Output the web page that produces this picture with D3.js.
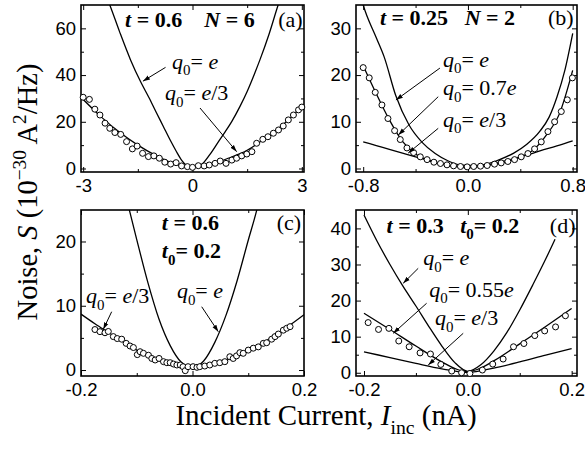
<!DOCTYPE html>
<html>
<head>
<meta charset="utf-8">
<script src="https://cdn.jsdelivr.net/npm/d3@7"></script>
<style>
body { margin: 0; background: #fff; }
.tick text { font-family: "Liberation Sans", Arial, sans-serif; font-size: 18.5px; fill: #000; }
.tick line { stroke: #000; stroke-width: 1; }
</style>
</head>
<body>
<script>
//chart size
var width = 585,
    height = 449;
var serif = "'Liberation Serif', 'Times New Roman', Times, serif";

// ---- panel (a): t = 0.6, N = 6 ----
var aXTicks = [-3, 0, 3], aXMinor = [-1.5, 1.5];
var aYTicks = [0, 20, 40, 60], aYMinor = [10, 30, 50];
var aCurveE = [[-2.4,75],[-2.27,70],[-2,58.5],[-1.7,46.5],[-1.42,37],[-1.2,30.5],[-1,24.2],[-0.8,18],[-0.62,12.4],[-0.45,7.5],[-0.29,3.4],[-0.15,1.1],[0,0.3],[0.12,0.6],[0.29,2.3],[0.5,6.5],[0.7,11.2],[0.9,15.8],[1.08,20.2],[1.3,26.5],[1.5,33],[1.7,40.5],[1.85,46.5],[2.1,57.5],[2.35,70],[2.48,76]];
var aCurveE3 = [[-3.06,30.5],[-2.5,22],[-2,15.5],[-1.5,10],[-1,5.5],[-0.5,2],[0,0.6],[0.5,1.8],[1,4.5],[1.5,7.8],[2,13],[2.5,19],[3.06,27.5]];
var aPoints = [[-3.0,30.5],[-2.83,29.6],[-2.68,25.4],[-2.54,22.9],[-2.40,19.4],[-2.27,17.2],[-2.13,15.4],[-1.97,14.6],[-1.81,11.5],[-1.65,8.4],[-1.52,9.6],[-1.37,6.5],[-1.21,5.1],[-1.06,5.4],[-0.91,4.4],[-0.76,2.7],[-0.60,1.9],[-0.45,2.5],[-0.30,1.1],[-0.14,0.8],[0.0,0.5],[0.16,1.2],[0.32,1.1],[0.46,1.5],[0.62,2.2],[0.76,3.2],[0.92,2.2],[1.08,3.6],[1.21,4.4],[1.35,5.4],[1.49,6.2],[1.63,7.2],[1.76,10.8],[1.93,12.5],[2.07,13.6],[2.22,15.1],[2.36,16.5],[2.49,18.2],[2.63,20.8],[2.77,22.9],[2.91,25.1],[3.0,26.3]];

// ---- panel (b): t = 0.25, N = 2 ----
var bXTicks = [-0.8, 0, 0.8], bXMinor = [-0.4, 0.4];
var bYTicks = [0, 10, 20, 30], bYMinor = [5, 15, 25];
var bCurveE = [[-0.82,37],[-0.8,35],[-0.7,28],[-0.64,23.9],[-0.55,15.5],[-0.45,9.3],[-0.35,5.6],[-0.25,3.2],[-0.15,1.6],[-0.05,0.7],[0.05,0.6],[0.15,1.0],[0.25,2.0],[0.35,3.3],[0.45,5.2],[0.55,8.0],[0.62,11],[0.68,15.3],[0.74,21],[0.8,28.9]];
var bCurve07 = [[-0.8,22],[-0.7,16],[-0.6,10.4],[-0.5,5.8],[-0.4,3.1],[-0.3,1.7],[-0.2,0.95],[-0.1,0.5],[0,0.35],[0.1,0.5],[0.2,0.9],[0.3,1.45],[0.4,2.4],[0.5,4.0],[0.6,7.2],[0.7,11.8],[0.8,21]];
var bCurveE3 = [[-0.8,5.7],[-0.7,4.9],[-0.6,4.1],[-0.5,3.3],[-0.4,2.5],[-0.3,1.75],[-0.2,1.05],[-0.1,0.45],[0,0.15],[0.1,0.45],[0.2,1.05],[0.3,1.75],[0.4,2.5],[0.5,3.3],[0.6,4.2],[0.7,5.0],[0.8,5.9]];
var bPoints = [[-0.80,21.6],[-0.754,19.4],[-0.708,16.3],[-0.657,13.6],[-0.611,10.7],[-0.560,8.1],[-0.517,6.2],[-0.466,4.4],[-0.415,3.4],[-0.364,2.5],[-0.312,1.9],[-0.26,1.35],[-0.21,1.07],[-0.16,0.78],[-0.11,0.57],[-0.057,0.43],[-0.006,0.35],[0.044,0.43],[0.096,0.5],[0.147,0.64],[0.203,0.93],[0.254,1.2],[0.305,1.5],[0.356,1.9],[0.407,2.5],[0.458,3.2],[0.509,4.2],[0.56,5.7],[0.611,7.9],[0.662,10],[0.713,12.2],[0.759,14.7],[0.798,19.4]];

// ---- panel (c): t = 0.6, t0 = 0.2 ----
var cXTicks = [-0.2, 0, 0.2], cXMinor = [-0.1, 0.1];
var cYTicks = [0, 10, 20], cYMinor = [5, 15];
var cCurveE = [[-0.125,29],[-0.113,24.8],[-0.1,20.3],[-0.08,13.6],[-0.06,7.9],[-0.04,3.8],[-0.02,1.2],[0,0.4],[0.02,1.4],[0.04,4.3],[0.06,8.5],[0.08,13.9],[0.1,20.2],[0.115,24.8],[0.125,28.5]];
var cCurveE3 = [[-0.2,8.7],[-0.175,7.2],[-0.15,5.8],[-0.125,4.4],[-0.1,3.1],[-0.075,2.0],[-0.05,1.2],[-0.025,0.7],[0,0.5],[0.025,0.7],[0.05,1.2],[0.075,2.0],[0.1,3.0],[0.125,4.2],[0.15,5.5],[0.175,7.0],[0.2,8.6]];
var cPoints = [[-0.175,6.3],[-0.166,5.97],[-0.157,5.8],[-0.151,6.0],[-0.142,5.2],[-0.135,4.9],[-0.127,4.8],[-0.119,4.15],[-0.112,3.74],[-0.106,3.5],[-0.099,2.4],[-0.094,2.85],[-0.088,2.6],[-0.079,2.3],[-0.073,1.8],[-0.067,1.56],[-0.06,1.8],[-0.052,1.3],[-0.046,1.14],[-0.040,1.14],[-0.034,0.93],[-0.028,0.78],[-0.022,0.78],[-0.017,0.52],[-0.013,-0.1],[-0.008,0.52],[0.001,0.52],[0.008,0.42],[0.013,0.52],[0.022,0.62],[0.031,0.78],[0.04,1.04],[0.049,1.14],[0.058,1.3],[0.067,2.07],[0.073,1.8],[0.079,2.2],[0.085,2.7],[0.091,2.6],[0.1,3.1],[0.109,3.4],[0.118,3.6],[0.127,4.15],[0.133,4.25],[0.142,4.8],[0.148,5.2],[0.154,5.6],[0.163,6.2],[0.169,6.5],[0.175,6.75]];

// ---- panel (d): t = 0.3, t0 = 0.2 ----
var dXTicks = [-0.2, 0, 0.2], dXMinor = [-0.1, 0.1];
var dYTicks = [0, 10, 20, 30, 40], dYMinor = [5, 15, 25, 35];
var dCurveE = [[-0.2,43.7],[-0.175,36.5],[-0.15,30],[-0.125,24],[-0.1,18.5],[-0.075,12.8],[-0.05,7.4],[-0.025,2.8],[0,0.4],[0.025,2.2],[0.05,6.0],[0.075,11.1],[0.1,17.4],[0.125,24.3],[0.15,31.5],[0.168,37]];
var dCurve055 = [[-0.2,16.5],[-0.15,12],[-0.1,7.4],[-0.05,3.0],[-0.02,0.9],[0,0.3],[0.02,1.0],[0.05,3.3],[0.1,8],[0.15,12.8],[0.2,17.8]];
var dCurveE3 = [[-0.2,5.8],[-0.15,4.2],[-0.1,2.6],[-0.05,1.1],[0,0.1],[0.05,1.3],[0.1,3.0],[0.15,4.9],[0.2,6.7]];
var dPoints = [[-0.192,13.9],[-0.172,12.0],[-0.152,12.3],[-0.133,8.8],[-0.113,7.2],[-0.092,5.5],[-0.072,5.2],[-0.052,2.3],[-0.031,0.47],[-0.012,0.0],[0.004,-0.2],[0.028,0.75],[0.048,2.4],[0.068,3.8],[0.088,7.2],[0.108,8.1],[0.129,10.3],[0.148,11.6],[0.169,12.7],[0.188,15.8]];

//text pieces: [string, flags]  i = italic, s = subscript, p = superscript
var I = "i", S = "s";
function q0(rhs) { return [["q", I], ["0", S], ["= ", ""]].concat(rhs); }

var panels = [
  { box: [81, 5, 304, 172], xDom: [-3.06, 3.06], yDom: [-1.5, 70], dec: 0,
    xTicks: aXTicks, xMinor: aXMinor, yTicks: aYTicks, yMinor: aYMinor,
    curves: [aCurveE, aCurveE3], points: aPoints,
    titles: [{ at: [-1.85, 60.6], parts: [["t", I], [" = 0.6    ", ""], ["N", I], [" = 6", ""]] }],
    tag: { at: [2.35, 60.6], text: "(a)" },
    notes: [
      { at: [-0.56, 42.8], from: [-0.74, 43.3], to: [-1.36, 37.4], parts: q0([["e", I]]) },
      { at: [-0.755, 29.3], from: [0.206, 25.9], to: [1.213, 7.2], parts: q0([["e", I], ["/3", ""]]) }
    ] },
  { box: [356, 5, 577, 172], xDom: [-0.855, 0.833], yDom: [-0.75, 35], dec: 1,
    xTicks: bXTicks, xMinor: bXMinor, yTicks: bYTicks, yMinor: bYMinor,
    curves: [bCurveE, bCurve07, bCurveE3], points: bPoints,
    titles: [{ at: [-0.672, 30.7], parts: [["t", I], [" = 0.25   ", ""], ["N", I], [" = 2", ""]] }],
    tag: { at: [0.611, 30.7], text: "(b)" },
    notes: [
      { at: [-0.191, 21.8], from: [-0.214, 21.5], to: [-0.55, 14.66], parts: q0([["e", I]]) },
      { at: [-0.191, 15.7], from: [-0.227, 15.37], to: [-0.532, 7.17], parts: q0([["0.7", ""], ["e", I]]) },
      { at: [-0.191, 8.95], from: [-0.227, 8.6], to: [-0.456, 3.3], parts: q0([["e", I], ["/3", ""]]) }
    ] },
  { box: [81, 210, 304, 376], xDom: [-0.2, 0.2], yDom: [-0.93, 24.9], dec: 1,
    xTicks: cXTicks, xMinor: cXMinor, yTicks: cYTicks, yMinor: cYMinor,
    curves: [cCurveE, cCurveE3], points: cPoints,
    titles: [{ at: [-0.055, 21.79], parts: [["t", I], [" = 0.6", ""]] },
             { at: [-0.055, 17.38], parts: [["t", I], ["0", S], ["= 0.2", ""]] }],
    tag: { at: [0.151, 21.79], text: "(c)" },
    notes: [
      { at: [-0.191, 10.43], from: [-0.145, 9.07], to: [-0.16, 6.34], parts: q0([["e", I], ["/3", ""]]) },
      { at: [-0.028, 11.16], from: [0.0165, 9.85], to: [0.0463, 5.96], parts: q0([["e", I]]) }
    ] },
  { box: [356, 210, 577, 376], xDom: [-0.2154, 0.2103], yDom: [-0.9, 45.1], dec: 1,
    xTicks: dXTicks, xMinor: dXMinor, yTicks: dYTicks, yMinor: dYMinor,
    curves: [dCurveE, dCurve055, dCurveE3], points: dPoints,
    titles: [{ at: [-0.1566, 38.81], parts: [["t", I], [" = 0.3   ", ""], ["t", I], ["0", S], ["= 0.2", ""]] }],
    tag: { at: [0.158, 38.81], text: "(d)" },
    notes: [
      { at: [-0.086, 29.86], from: [-0.0956, 28.94], to: [-0.1245, 24.79], parts: q0([["e", I]]) },
      { at: [-0.0744, 21.07], from: [-0.0794, 19.25], to: [-0.1437, 10.93], parts: q0([["0.55", ""], ["e", I]]) },
      { at: [-0.0634, 13.23], from: [-0.0089, 10.93], to: [-0.0763, 2.15], parts: q0([["e", I], ["/3", ""]]) }
    ] }
];

var svg = d3.select("body")
    .append("svg")
    .attr("width", width)
    .attr("height", height);

//arrow head
svg.append("defs").append("marker")
    .attr("id", "arrow")
    .attr("viewBox", "0 0 10 10")
    .attr("refX", 10).attr("refY", 5)
    .attr("markerWidth", 7).attr("markerHeight", 7)
    .attr("orient", "auto")
    .append("path")
    .attr("d", "M0,1.8L10,5L0,8.2Z")
    .attr("fill", "#000");

//new serif text element
function serifText(parent) {
    return parent.append("text")
        .style("font-family", serif)
        .style("white-space", "pre");
}

//write a text with italic / sub / superscript pieces
function rich(text, parts, size) {
    var off = 0;
    parts.forEach(function(p) {
        var small = p[1] == "s" || p[1] == "p";
        var target = p[1] == "s" ? size * 0.3 : p[1] == "p" ? -size * 0.4 : 0;
        text.append("tspan")
            .attr("dy", target - off)
            .style("font-size", (small ? size * 0.68 : size) + "px")
            .style("font-style", p[1] == "i" ? "italic" : "normal")
            .text(p[0]);
        off = target;
    });
}

function noDomain(a) { a.select(".domain").remove(); }

panels.forEach(function(p, k) {
    var x = d3.scaleLinear().domain(p.xDom).range([p.box[0], p.box[2]]);
    var y = d3.scaleLinear().domain(p.yDom).range([p.box[3], p.box[1]]);
    var fmt = function(d) { return d.toFixed(p.dec); };
    var g = svg.append("g");

    //axes on all four sides, ticks pointing inward; labels only bottom and left
    var sides = [
        { make: d3.axisBottom, scale: x, major: p.xTicks, minor: p.xMinor, at: "translate(0," + p.box[3] + ")", fmt: fmt, pad: 7 },
        { make: d3.axisTop, scale: x, major: p.xTicks, minor: p.xMinor, at: "translate(0," + p.box[1] + ")", fmt: "" },
        { make: d3.axisLeft, scale: y, major: p.yTicks, minor: p.yMinor, at: "translate(" + p.box[0] + ",0)", fmt: d3.format("d"), pad: 5 },
        { make: d3.axisRight, scale: y, major: p.yTicks, minor: p.yMinor, at: "translate(" + p.box[2] + ",0)", fmt: "" }
    ];
    sides.forEach(function(s) {
        g.append("g").attr("transform", s.at)
            .call(s.make(s.scale).tickValues(s.major).tickSize(-5).tickSizeOuter(0)
                .tickPadding(s.pad || 3).tickFormat(s.fmt))
            .call(noDomain);
        g.append("g").attr("transform", s.at)
            .call(s.make(s.scale).tickValues(s.minor).tickSize(-3).tickSizeOuter(0).tickFormat(""))
            .call(noDomain);
    });

    //frame
    g.append("rect")
        .attr("x", p.box[0]).attr("y", p.box[1])
        .attr("width", p.box[2] - p.box[0]).attr("height", p.box[3] - p.box[1])
        .attr("fill", "none").attr("stroke", "#000").attr("stroke-width", 1.6);

    svg.append("clipPath").attr("id", "clip" + k)
        .append("rect")
        .attr("x", p.box[0]).attr("y", p.box[1])
        .attr("width", p.box[2] - p.box[0]).attr("height", p.box[3] - p.box[1]);

    var line = d3.line()
        .x(function(d) { return x(d[0]); })
        .y(function(d) { return y(d[1]); })
        .curve(d3.curveMonotoneX);

    g.append("g").attr("clip-path", "url(#clip" + k + ")")
        .selectAll("path")
        .data(p.curves)
        .enter()
        .append("path")
        .attr("d", line)
        .attr("fill", "none")
        .attr("stroke", "#000")
        .attr("stroke-width", 1.3);

    g.selectAll(".pt")
        .data(p.points)
        .enter()
        .append("circle")
        .attr("class", "pt")
        .attr("cx", function(d) { return x(d[0]); })
        .attr("cy", function(d) { return y(d[1]); })
        .attr("r", 3)
        .attr("fill", "#fff")
        .attr("stroke", "#000")
        .attr("stroke-width", 1);

    //titles
    p.titles.forEach(function(t) {
        var tx = serifText(g)
            .attr("x", x(t.at[0])).attr("y", y(t.at[1]))
            .style("font-weight", "bold");
        rich(tx, t.parts, 22);
    });
    serifText(g)
        .attr("x", x(p.tag.at[0])).attr("y", y(p.tag.at[1]))
        .style("font-size", "22px")
        .text(p.tag.text);

    //curve labels with arrows
    p.notes.forEach(function(n) {
        g.append("line")
            .attr("x1", x(n.from[0])).attr("y1", y(n.from[1]))
            .attr("x2", x(n.to[0])).attr("y2", y(n.to[1]))
            .attr("stroke", "#000").attr("stroke-width", 1)
            .attr("marker-end", "url(#arrow)");
        var tx = serifText(g)
            .attr("x", x(n.at[0])).attr("y", y(n.at[1]));
        rich(tx, n.parts, 22);
    });
});

//axis titles
var yl = serifText(svg)
    .attr("transform", "translate(37,192) rotate(-90)")
    .attr("text-anchor", "middle");
rich(yl, [["Noise, ", ""], ["S", I], [" (10", ""], ["\u221230", "p"], [" A", ""], ["2", "p"], ["/Hz)", ""]], 28.5);

var xl = serifText(svg)
    .attr("x", 326).attr("y", 425)
    .attr("text-anchor", "middle");
rich(xl, [["Incident Current, ", ""], ["I", I], ["inc", S], [" (nA)", ""]], 29);
</script>
</body>
</html>
